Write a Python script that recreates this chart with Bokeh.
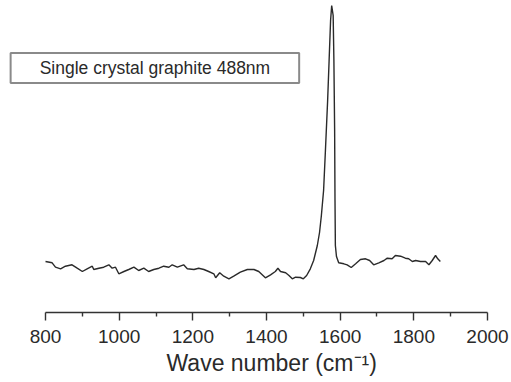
from bokeh.plotting import figure
from bokeh.models import Range1d, FixedTicker, Label, Title
from bokeh.embed import file_html
from bokeh.resources import INLINE

# Raman shift (cm^-1) and intensity (a.u.)
wavenumber = [800, 818, 827, 841, 854, 872, 886, 900, 913, 927, 931, 945, 958, 972, 981, 990,
              999, 1013, 1026, 1040, 1053, 1067, 1080, 1094, 1108, 1121, 1135, 1144, 1158, 1175,
              1185, 1203, 1216, 1230, 1243, 1257, 1262, 1273, 1284, 1298, 1311, 1329, 1348, 1366,
              1379, 1397, 1411, 1424, 1431, 1438, 1452, 1461, 1470, 1479, 1492, 1500, 1509, 1519,
              1528, 1538, 1544, 1549, 1555, 1560, 1566, 1570, 1574, 1577, 1581, 1583, 1585, 1586,
              1587, 1590, 1596, 1610, 1619, 1630, 1642, 1655, 1669, 1680, 1691, 1705, 1719, 1728,
              1741, 1750, 1764, 1777, 1786, 1796, 1805, 1818, 1832, 1841, 1850, 1859, 1865, 1872]
intensity = [510, 497, 453, 437, 463, 477, 443, 410, 437, 463, 430, 443, 453, 477, 443, 453,
             387, 410, 430, 453, 420, 443, 410, 430, 443, 463, 453, 477, 453, 477,
             437, 430, 443, 430, 410, 387, 347, 397, 363, 337, 363, 403, 430, 430,
             410, 347, 377, 410, 443, 410, 397, 370, 337, 353, 350, 337, 370, 437,
             520, 670, 800, 970, 1220, 1620, 2120, 2520, 2920, 3070, 2970, 2520, 1820, 1120,
             670, 560, 497, 487, 477, 450, 487, 530, 537, 520, 477, 497, 520, 543,
             537, 570, 563, 543, 537, 510, 520, 510, 510, 477, 520, 570, 537, 510]

major_ticks = [800, 1000, 1200, 1400, 1600, 1800, 2000]
minor_ticks = [900, 1100, 1300, 1500, 1700, 1900]
legend_text = "Single crystal graphite 488nm"
x_label = "Wave number (cm\u207b\u00b9)"

p = figure(width=511, height=382, output_backend="svg", toolbar_location=None,
           x_range=Range1d(677.8, 2065.2), y_range=Range1d(0, 3120),
           y_axis_location=None, min_border_left=0, min_border_right=0,
           min_border_top=0, min_border_bottom=70)
p.outline_line_color = None
p.grid.visible = False
p.background_fill_color = "white"
p.border_fill_color = "white"

p.line(wavenumber, intensity, line_color="#2a2a2a", line_width=1.4)

ax = p.xaxis[0]
ax.bounds = (800, 2000)
ax.ticker = FixedTicker(ticks=major_ticks, minor_ticks=minor_ticks)
ax.axis_line_color = "#333333"
ax.axis_line_width = 1.4
ax.major_tick_line_color = "#333333"
ax.major_tick_line_width = 1.4
ax.minor_tick_line_color = "#333333"
ax.minor_tick_line_width = 1.4
ax.major_tick_in = 0
ax.major_tick_out = 8
ax.minor_tick_in = 0
ax.minor_tick_out = 4
ax.major_label_text_font = "Liberation Sans"
ax.major_label_text_font_size = "19px"
ax.major_label_text_color = "#2a2a2a"
ax.major_label_standoff = 9

xt = Title(text=x_label, align="left", offset=166, standoff=5,
           text_font="Liberation Sans", text_font_size="23px",
           text_font_style="normal", text_color="#2a2a2a")
p.add_layout(xt, "below")

lab = Label(x=1097, y=2445, x_units="data", y_units="data", text=legend_text,
            text_align="center", text_baseline="middle",
            text_font="Liberation Sans", text_font_size="17.5px", text_color="#2a2a2a",
            border_line_color="#8a8a8a", border_line_width=2,
            background_fill_color="white",
            padding=dict(left=29, right=29, top=5, bottom=5))
p.add_layout(lab)

open("out.html", "w").write(file_html(p, INLINE))
